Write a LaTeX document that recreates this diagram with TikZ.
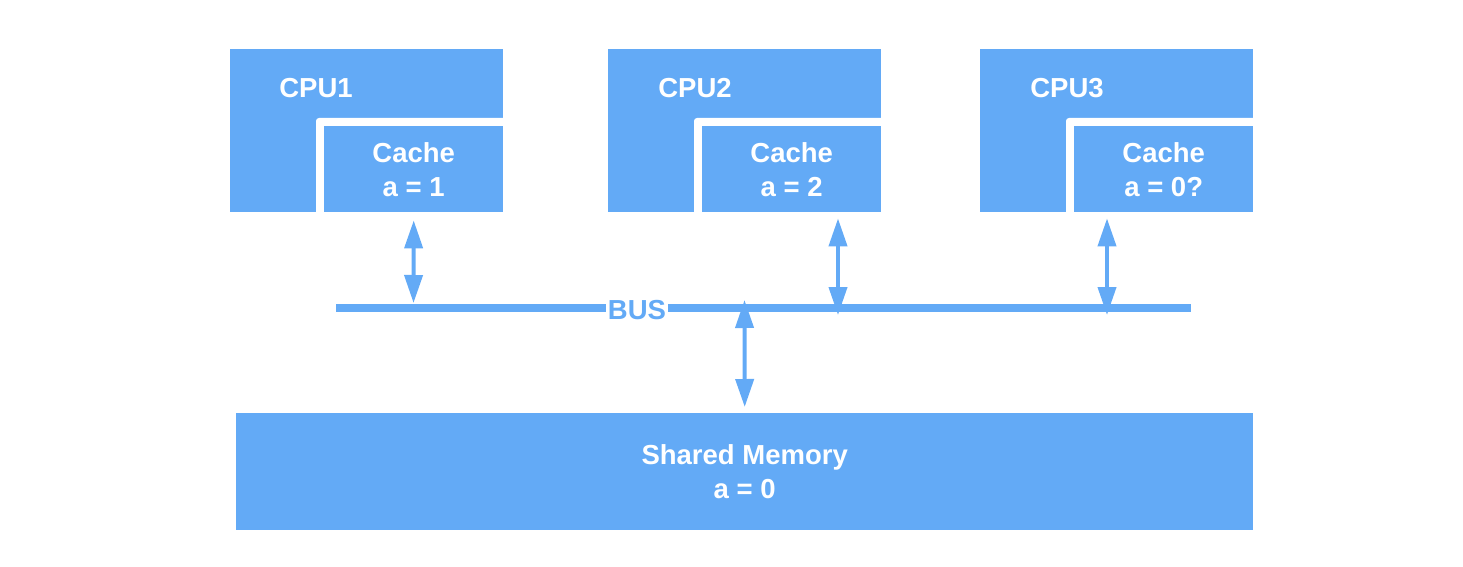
\documentclass[tikz,border=0pt]{standalone}
\usepackage{fontspec}
\setmainfont{Liberation Sans}
\usetikzlibrary{arrows.meta}
\definecolor{blu}{RGB}{99,170,246}
\begin{document}
\begin{tikzpicture}[x=1pt,y=-1pt,
  every node/.style={font=\fontsize{27.5}{34}\selectfont\bfseries},
  cpubox/.style={fill=blu, draw=none, inner sep=0, anchor=north west, minimum width=273, minimum height=163},
  cachebox/.style={fill=blu, draw=none, inner sep=0, anchor=north west, minimum width=179, minimum height=86},
  lbl/.style={text=white, inner sep=0, align=center},
  arr/.style={draw=blu, line width=4, {Triangle[width=18,length=28]}-{Triangle[width=18,length=28]}},
  busline/.style={draw=blu, line width=8},
  gap/.style={fill=white, rounded corners=3}
]
\useasboundingbox (0,0) rectangle (1463,567);
% CPU blocks
\node[cpubox] (cpu1) at (230,49) {};
\node[cpubox] (cpu2) at (608,49) {};
\node[cpubox] (cpu3) at (980,49) {};
\path[gap] (316,118) rectangle (512,220);
\path[gap] (694,118) rectangle (890,220);
\path[gap] (1066,118) rectangle (1262,220);
\node[cachebox] (cache1) at (324,126) {};
\node[cachebox] (cache2) at (702,126) {};
\node[cachebox] (cache3) at (1074,126) {};
\node[lbl] (cpu1t) at (316,88) {CPU1};
\node[lbl] (cpu2t) at (695,88) {CPU2};
\node[lbl] (cpu3t) at (1067,88) {CPU3};
\node[lbl] (cache1t) at (cache1.center) {Cache\\a = 1};
\node[lbl] (cache2t) at (cache2.center) {Cache\\a = 2};
\node[lbl] (cache3t) at (cache3.center) {Cache\\a = 0?};
% memory
\node[fill=blu, inner sep=0, anchor=north west, minimum width=1017, minimum height=117] (mem) at (236,413) {};
\node[lbl] (memt) at (mem.center) {Shared Memory\\a = 0};
% bus
\coordinate (bl) at (336,308);
\coordinate (br) at (1191,308);
\draw[busline] (bl) -- (br);
\node[fill=white, text=blu, inner xsep=2, inner ysep=1] (bus) at (637,310) {BUS};
% arrows
\coordinate (b1) at (413.5,303);
\coordinate (b2) at (838,315);
\coordinate (b3) at (1107,315);
\coordinate (bm) at (744.5,300);
\draw[arr] ([yshift=-8]cache1.south) -- (b1);
\draw[arr] ([yshift=-6]b2 |- cache2.south) -- (b2);
\draw[arr] ([yshift=-6]b3 |- cache3.south) -- (b3);
\draw[arr] (bm) -- ([yshift=6]mem.north);
\end{tikzpicture}
\end{document}
